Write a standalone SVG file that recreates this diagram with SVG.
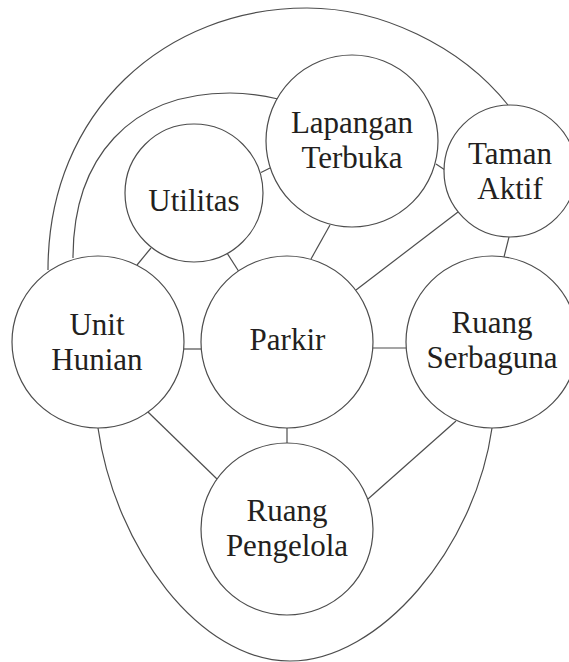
<svg xmlns="http://www.w3.org/2000/svg" width="569" height="662" viewBox="0 0 569 662">
<style>
.n{fill:#fff;stroke:#4d4d4d;stroke-width:1.2}
.c{fill:none;stroke:#4d4d4d;stroke-width:1.2}
text{font-family:"Liberation Serif","Times New Roman",serif;font-size:31px;fill:#231f20;text-anchor:middle}
</style>
<rect width="569" height="662" fill="#fff"/>
<g id="connectors" class="c">
<path d="M48,270 C48,110 167,8 307,8 C380,8 460,45 508,105"/>
<path d="M73,258 C73,158 130,93 230,93 C250,93 265,96 278,99"/>
<path d="M98,428 C115,548 200,661 290,661 C380,661 475,548 492,428"/>
<line x1="183.7" y1="349" x2="201.3" y2="349"/>
<line x1="372.8" y1="348" x2="406.2" y2="348"/>
<line x1="287" y1="428" x2="287" y2="443"/>
<line x1="148" y1="412" x2="217" y2="479"/>
<line x1="456" y1="421" x2="368" y2="499"/>
<line x1="151" y1="248" x2="137" y2="265"/>
<line x1="227" y1="253" x2="238.5" y2="271"/>
<line x1="261" y1="172.5" x2="270" y2="168"/>
<line x1="330" y1="225" x2="311" y2="259"/>
<line x1="436" y1="164" x2="445" y2="170"/>
<line x1="458" y1="212" x2="356" y2="290"/>
<line x1="509" y1="237" x2="504" y2="257"/>
</g>
<g id="lapangan"><circle class="n" cx="352" cy="141" r="86"/><text x="352" y="133">Lapangan</text><text x="352" y="168">Terbuka</text></g>
<g id="taman"><circle class="n" cx="510" cy="171" r="66"/><text x="510" y="164">Taman</text><text x="510" y="199">Aktif</text></g>
<g id="utilitas"><circle class="n" cx="194" cy="193" r="69"/><text x="194" y="211">Utilitas</text></g>
<g id="unit"><circle class="n" cx="98" cy="342" r="86"/><text x="97" y="335">Unit</text><text x="97" y="370">Hunian</text></g>
<g id="parkir"><circle class="n" cx="287" cy="342" r="86"/><text x="287.5" y="350">Parkir</text></g>
<g id="serbaguna"><circle class="n" cx="492" cy="342" r="86"/><text x="492" y="333">Ruang</text><text x="492" y="368">Serbaguna</text></g>
<g id="pengelola"><circle class="n" cx="287" cy="529" r="86"/><text x="287" y="521">Ruang</text><text x="287" y="556">Pengelola</text></g>
</svg>
